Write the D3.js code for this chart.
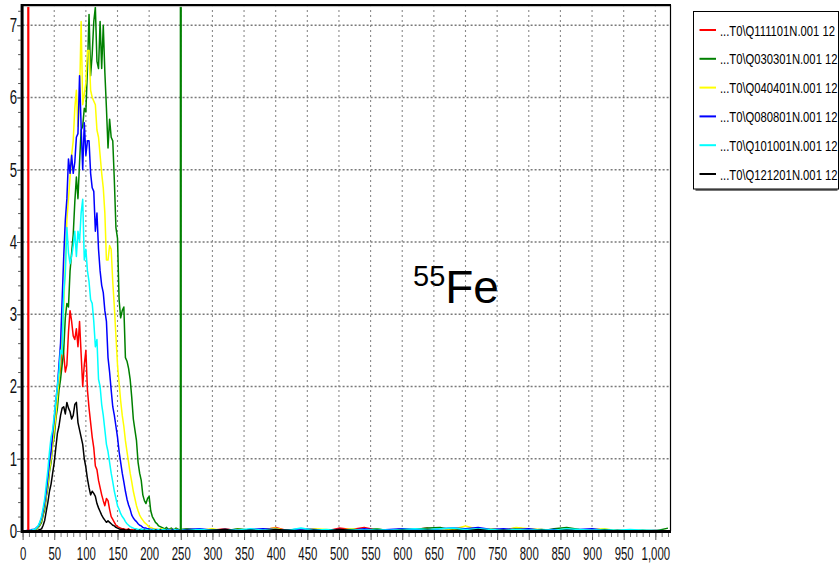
<!DOCTYPE html>
<html>
<head>
<meta charset="utf-8">
<script src="https://cdn.jsdelivr.net/npm/d3@7"></script>
<style>
  html, body { margin: 0; padding: 0; background: #fff; }
  svg { display: block; }
  text { font-family: "Liberation Sans", Arial, sans-serif; }
</style>
</head>
<body>
<svg id="chart" width="840" height="573"></svg>
<script>
// channel bins of the peak region (2.5 wide), then a coarse tail
const binX = [0, 2.5, 5, 7.5, 10, 12.5, 15, 17.5, 20, 22.5,
  25, 27.5, 30, 32.5, 35, 37.5, 40, 42.5, 45, 47.5,
  50, 52.5, 55, 57.5, 60, 62.5, 65, 67.5, 70, 72.5,
  75, 77.5, 80, 82.5, 85, 87.5, 90, 92.5, 95, 97.5,
  100, 102.5, 105, 107.5, 110, 112.5, 115, 117.5, 120, 122.5,
  125, 127.5, 130, 132.5, 135, 137.5, 140, 142.5, 145, 147.5,
  150, 152.5, 155, 157.5, 160, 162.5, 165, 167.5, 170, 172.5,
  175, 177.5, 180, 182.5, 185, 187.5, 190, 192.5, 195, 197.5,
  200, 202.5, 205, 207.5, 210, 212.5, 215, 217.5, 220, 222.5,
  225, 227.5, 230, 232.5, 235, 237.5, 240, 242.5, 245, 247.5,
  250];
const tailX = [260, 280, 300, 320, 340, 360, 380, 400, 420, 440,
  460, 480, 500, 520, 540, 560, 580, 600, 620, 640,
  660, 680, 700, 720, 740, 760, 780, 800, 820, 840,
  860, 880, 900, 920, 940, 960, 980, 1000, 1020];

const seriesNames = ["...T0\\Q111101N.001 12", "...T0\\Q030301N.001 12", "...T0\\Q040401N.001 12",
  "...T0\\Q080801N.001 12", "...T0\\Q101001N.001 12", "...T0\\Q121201N.001 12"];
const seriesColors = ["#ff0000", "#008000", "#ffff00", "#0000ff", "#00ffff", "#000000"];

const redVals = [0, 0, 0, 0, 0, 0, 0.01, 0.01, 0.02, 0.04,
  0.06, 0.1, 0.15, 0.25, 0.35, 0.5, 0.7, 0.9, 1.05, 1.25,
  1.4, 1.6, 1.8, 2.1, 2.25, 2.6, 2.45, 2.2, 2.3, 2.75,
  3.05, 2.9, 2.7, 2.65, 2.8, 2.55, 2.9, 2.45, 2.0, 2.3,
  2.5, 1.95, 1.7, 1.5, 1.3, 1.15, 0.9, 0.85, 0.7, 0.6,
  0.5, 0.42, 0.35, 0.45, 0.42, 0.3, 0.2, 0.16, 0.12, 0.08,
  0.06, 0.05, 0.04, 0.03, 0.03, 0.02, 0.02, 0.03, 0.01, 0.02,
  0.01, 0.02, 0.01, 0, 0, 0.01, 0.01, 0, 0, 0.01,
  0.01, 0, 0, 0.01, 0.02, 0, 0, 0.01, 0.01, 0,
  0, 0.01, 0.01, 0, 0, 0.01, 0.02, 0, 0, 0.01,
  0.01];
const greenVals = [0, 0, 0, 0, 0, 0, 0, 0.01, 0.02, 0.03,
  0.05, 0.08, 0.12, 0.22, 0.3, 0.48, 0.6, 0.82, 0.95, 1.2,
  1.3, 1.55, 1.7, 1.95, 2.1, 2.3, 2.5, 2.95, 3.15, 3.1,
  3.6, 3.85, 4.1, 4.55, 4.9, 4.6, 5.1, 5.55, 5.6, 5.85,
  5.8, 6.4, 7.15, 6.3, 6.6, 7.05, 7.25, 6.5, 6.4, 7.05,
  6.4, 7.0, 6.35, 5.85, 5.3, 5.7, 5.45, 5.4, 4.85, 4.2,
  4.05, 3.2, 2.95, 3.05, 3.1, 2.4, 2.35, 2.25, 2.1, 1.85,
  1.55, 1.4, 1.25, 0.95, 0.8, 0.7, 0.5, 0.42, 0.38, 0.45,
  0.48, 0.28, 0.2, 0.16, 0.12, 0.1, 0.07, 0.06, 0.05, 0.04,
  0.03, 0.05, 0.02, 0.03, 0.04, 0.02, 0.02, 0.04, 0.03, 0.01,
  0.02];
const yellowVals = [0, 0, 0, 0, 0, 0, 0.01, 0.01, 0.02, 0.04,
  0.06, 0.1, 0.15, 0.25, 0.35, 0.5, 0.65, 0.85, 1.0, 1.2,
  1.4, 1.6, 1.85, 2.1, 2.4, 2.7, 3.1, 3.7, 4.3, 4.6,
  4.9, 5.2, 5.4, 5.85, 6.1, 5.6, 6.0, 7.05, 5.9, 6.05,
  6.2, 6.65, 6.65, 6.1, 6.0, 5.95, 5.9, 5.55, 5.45, 5.2,
  4.95, 4.75, 4.4, 3.75, 3.75, 3.95, 3.9, 3.45, 3.1, 2.7,
  2.3, 2.05, 1.8, 1.6, 1.45, 1.25, 1.1, 0.95, 0.8, 0.68,
  0.55, 0.45, 0.35, 0.28, 0.22, 0.18, 0.15, 0.12, 0.1, 0.08,
  0.05, 0.05, 0.04, 0.03, 0.03, 0.02, 0.02, 0.03, 0.03, 0.02,
  0.02, 0.01, 0.01, 0.02, 0.02, 0.01, 0.01, 0.02, 0.02, 0.01,
  0.01];
const blueVals = [0, 0, 0, 0.01, 0.01, 0.01, 0.02, 0.02, 0.03, 0.05,
  0.07, 0.12, 0.18, 0.28, 0.4, 0.55, 0.75, 0.95, 1.1, 1.35,
  1.55, 1.8, 2.0, 2.3, 2.6, 3.2, 3.8, 4.3, 4.6, 5.15,
  4.95, 5.2, 4.95, 5.1, 5.45, 5.5, 6.3, 5.6, 5.0, 5.65,
  5.2, 5.4, 5.4, 4.95, 4.75, 4.7, 4.15, 4.4, 3.9, 3.6,
  3.4, 3.3, 3.05, 2.9, 2.4, 2.2, 1.95, 1.72, 1.6, 1.45,
  1.3, 1.1, 0.95, 0.8, 0.68, 0.55, 0.44, 0.36, 0.3, 0.22,
  0.18, 0.15, 0.13, 0.1, 0.08, 0.07, 0.05, 0.04, 0.04, 0.03,
  0.03, 0.02, 0.02, 0.02, 0.01, 0.02, 0.01, 0.02, 0.01, 0.01,
  0.01, 0.02, 0.02, 0.01, 0.01, 0.02, 0.01, 0.01, 0.02, 0.01,
  0.01];
const cyanVals = [0, 0, 0, 0, 0, 0.01, 0.01, 0.02, 0.03, 0.05,
  0.08, 0.13, 0.2, 0.32, 0.45, 0.65, 0.85, 1.1, 1.3, 1.4,
  1.6, 1.8, 2.0, 2.2, 2.5, 2.45, 3.3, 3.55, 4.2, 3.85,
  3.7, 3.8, 3.95, 4.15, 3.8, 4.15, 4.0, 4.4, 4.59, 3.75,
  3.9, 3.6, 3.45, 3.2, 3.15, 2.9, 2.55, 2.65, 2.1, 2.0,
  1.75, 1.6, 1.4, 1.2, 1.1, 0.95, 0.8, 0.68, 0.55, 0.45,
  0.35, 0.3, 0.24, 0.2, 0.17, 0.13, 0.1, 0.08, 0.06, 0.05,
  0.04, 0.03, 0.03, 0.02, 0.02, 0.03, 0.02, 0.01, 0.02, 0.01,
  0.02, 0.01, 0.01, 0.02, 0.01, 0.01, 0.02, 0.01, 0.01, 0.02,
  0.01, 0.02, 0.01, 0.01, 0, 0.01, 0.02, 0.01, 0.01, 0.02,
  0.01];
const blackVals = [0, 0, 0, 0, 0, 0, 0, 0, 0, 0,
  0.01, 0.02, 0.03, 0.08, 0.15, 0.28, 0.4, 0.55, 0.65, 0.8,
  0.95, 1.15, 1.35, 1.45, 1.6, 1.7, 1.72, 1.62, 1.78, 1.7,
  1.65, 1.55, 1.6, 1.75, 1.78, 1.5, 1.4, 1.3, 1.2, 1.0,
  0.88, 0.72, 0.6, 0.5, 0.55, 0.52, 0.48, 0.38, 0.32, 0.27,
  0.22, 0.18, 0.15, 0.12, 0.14, 0.12, 0.1, 0.08, 0.07, 0.05,
  0.04, 0.03, 0.02, 0.02, 0.02, 0.01, 0.01, 0.02, 0.01, 0,
  0, 0.01, 0, 0, 0.01, 0, 0, 0.01, 0, 0,
  0.01, 0, 0, 0, 0.01, 0, 0, 0.01, 0, 0,
  0, 0.01, 0, 0, 0, 0.01, 0, 0, 0, 0.01,
  0];

// tails (260 .. 1020)
const redTail = [0.02, 0, 0.01, 0.03, 0, 0.02, 0.01, 0.05, 0, 0.02,
  0.01, 0, 0.04, 0.02, 0.05, 0.01, 0, 0.03, 0.02, 0.04,
  0, 0.02, 0.01, 0, 0.02, 0.01, 0, 0.01, 0.02, 0,
  0.01, 0, 0.02, 0, 0.01, 0, 0, 0.01, 0];
const greenTail = [0.03, 0.01, 0.02, 0, 0.03, 0.01, 0, 0.02, 0.01, 0,
  0.02, 0.01, 0, 0.02, 0.01, 0.03, 0, 0.01, 0.02, 0.04,
  0.05, 0.01, 0.02, 0, 0.03, 0.01, 0.04, 0.02, 0, 0.03,
  0.05, 0.02, 0.01, 0, 0.01, 0, 0.01, 0, 0.04];
const yellowTail = [0.02, 0.01, 0.03, 0, 0.02, 0.01, 0.02, 0.04, 0, 0.01,
  0.03, 0.02, 0.01, 0.03, 0, 0.02, 0.01, 0, 0.02, 0.01,
  0.03, 0.02, 0.07, 0.02, 0.03, 0.01, 0.05, 0.03, 0.02, 0.01,
  0.02, 0.01, 0.02, 0.03, 0, 0.01, 0, 0, 0];
const blueTail = [0.02, 0.03, 0.01, 0.02, 0.01, 0.02, 0.03, 0.02, 0.01, 0.03,
  0.02, 0.01, 0.02, 0.01, 0.03, 0.01, 0.02, 0.03, 0.02, 0.01,
  0.03, 0.04, 0.03, 0.05, 0.02, 0.03, 0.02, 0.03, 0.01, 0.02,
  0.01, 0.02, 0.03, 0.01, 0, 0.01, 0, 0, 0];
const cyanTail = [0.01, 0.02, 0.01, 0.02, 0.01, 0.03, 0.01, 0.02, 0.01, 0.04,
  0.01, 0.02, 0.01, 0.02, 0.01, 0.02, 0.01, 0.02, 0.03, 0.02,
  0.03, 0.04, 0.02, 0.03, 0.02, 0.01, 0.02, 0.01, 0.02, 0.01,
  0.03, 0.02, 0.01, 0.02, 0.01, 0.02, 0.01, 0.01, 0];
const blackTail = [0.01, 0, 0.01, 0.02, 0, 0.01, 0, 0.02, 0.01, 0,
  0.01, 0, 0.02, 0.01, 0, 0.01, 0, 0.01, 0, 0.01,
  0, 0.01, 0, 0.02, 0, 0.01, 0, 0, 0.01, 0,
  0.01, 0, 0, 0.01, 0, 0, 0, 0, 0];

const mainVals = [redVals, greenVals, yellowVals, blueVals, cyanVals, blackVals];
const tailVals = [redTail, greenTail, yellowTail, blueTail, cyanTail, blackTail];

const xTicks = [0, 50, 100, 150, 200, 250, 300, 350, 400, 450, 500, 550, 600, 650, 700, 750, 800, 850, 900, 950, 1000];
const yTicks = [0, 1, 2, 3, 4, 5, 6, 7];
const markerLines = [{x: 9, color: "#ff0000"}, {x: 250, color: "#008000"}];

const svg = d3.select("#chart");
const plotL = 22.6, plotR = 670.5, plotT = 5, plotB = 531;

const x = d3.scaleLinear().domain([0, 1024]).range([plotL, plotR]);
const y = d3.scaleLinear().domain([0, 7.28]).range([plotB, plotT]);

// grid
const grid = svg.append("g");
grid.selectAll("line.h")
  .data(yTicks.filter(d => d > 0))
  .join("line")
    .attr("x1", plotL).attr("x2", plotR)
    .attr("y1", d => y(d)).attr("y2", d => y(d))
    .attr("stroke", "#7a7a7a").attr("stroke-width", 1.6)
    .attr("stroke-dasharray", "2,2");
grid.selectAll("line.v")
  .data(xTicks.filter(d => d > 0))
  .join("line")
    .attr("x1", d => x(d)).attr("x2", d => x(d))
    .attr("y1", plotT).attr("y2", plotB)
    .attr("stroke", "#8a8a8a").attr("stroke-width", 1.1)
    .attr("stroke-dasharray", "2,3");

// series
const line = d3.line().x(d => x(d[0])).y(d => y(d[1]));
const series = mainVals.map((vals, i) => {
  const pts = binX.map((b, j) => [b, vals[j]]);
  tailX.forEach((b, j) => pts.push([b, tailVals[i][j]]));
  return {name: seriesNames[i], color: seriesColors[i], pts};
});

svg.append("g")
  .selectAll("path")
  .data(series)
  .join("path")
    .attr("d", d => line(d.pts))
    .attr("fill", "none")
    .attr("stroke", d => d.color)
    .attr("stroke-width", 1.5)
    .attr("stroke-linejoin", "round");

// marker lines
svg.append("g")
  .selectAll("line")
  .data(markerLines)
  .join("line")
    .attr("x1", d => x(d.x)).attr("x2", d => x(d.x))
    .attr("y1", plotT).attr("y2", plotB)
    .attr("stroke", d => d.color)
    .attr("stroke-width", 2.2);

// frame
svg.append("line").attr("x1", plotL).attr("x2", plotR + 0.5).attr("y1", plotT).attr("y2", plotT)
  .attr("stroke", "#000").attr("stroke-width", 2);
svg.append("line").attr("x1", plotL).attr("x2", plotR).attr("y1", plotT + 1.6).attr("y2", plotT + 1.6)
  .attr("stroke", "#bbb").attr("stroke-width", 1);
svg.append("line").attr("x1", plotR).attr("x2", plotR).attr("y1", plotT).attr("y2", plotB)
  .attr("stroke", "#000").attr("stroke-width", 1.2);
svg.append("line").attr("x1", plotL - 1.5).attr("x2", plotR + 0.5).attr("y1", plotB + 0.5).attr("y2", plotB + 0.5)
  .attr("stroke", "#000").attr("stroke-width", 3);
svg.append("line").attr("x1", plotL - 0.5).attr("x2", plotL - 0.5).attr("y1", plotT - 1).attr("y2", plotB + 2)
  .attr("stroke", "#000").attr("stroke-width", 3);

// x axis
const xAxis = d3.axisBottom(x)
  .tickValues(xTicks)
  .tickFormat(d3.format(","))
  .tickSize(7)
  .tickPadding(7);
const gx = svg.append("g").attr("transform", `translate(0,${plotB + 2})`).call(xAxis);
gx.select(".domain").remove();
gx.selectAll(".tick line").attr("stroke", "#555");
gx.selectAll(".tick text")
  .attr("font-size", 19)
  .attr("fill", "#111")
  .attr("transform", "scale(0.6,1)");
const xMinor = d3.axisBottom(x).ticks(102).tickSize(4).tickFormat("");
const gxm = svg.append("g").attr("transform", `translate(0,${plotB + 2})`).call(xMinor);
gxm.select(".domain").remove();
gxm.selectAll(".tick line").attr("stroke", "#777");

// y axis
const yAxis = d3.axisLeft(y).tickValues(yTicks).tickSize(4).tickPadding(2).tickFormat(d3.format("d"));
const gy = svg.append("g").attr("transform", `translate(${plotL - 1.5},0)`).call(yAxis);
gy.select(".domain").remove();
gy.selectAll(".tick line").attr("stroke", "#333");
gy.selectAll(".tick text")
  .attr("font-size", 20)
  .attr("fill", "#111")
  .attr("transform", "scale(0.66,1)");
const yMinor = d3.axisLeft(y).ticks(29).tickSize(3).tickFormat("");
const gym = svg.append("g").attr("transform", `translate(${plotL - 1.5},0)`).call(yMinor);
gym.select(".domain").remove();
gym.selectAll(".tick line").attr("stroke", "#555");

// annotation
const ann = svg.append("text").attr("x", 413).attr("y", 303).attr("fill", "#000");
ann.append("tspan").attr("font-size", 29).attr("dy", -17).text("55");
ann.append("tspan").attr("font-size", 46).attr("dy", 17).text("Fe");

// legend (box runs to the right edge, like the reference)
const lg = svg.append("g").attr("transform", "translate(693.5,11.5)");
lg.append("rect").attr("x", 2).attr("y", 2).attr("width", 142).attr("height", 177.5).attr("fill", "#777");
lg.append("rect").attr("width", 145).attr("height", 177.5).attr("fill", "#fff").attr("stroke", "#000").attr("stroke-width", 1);
const items = lg.selectAll("g.item")
  .data(series)
  .join("g")
    .attr("transform", (d, i) => `translate(0,${18.5 + i * 28.8})`);
items.append("line")
  .attr("x1", 6).attr("x2", 22.5)
  .attr("stroke", d => d.color).attr("stroke-width", 2);
items.append("text")
  .attr("transform", "translate(26.5,5.5) scale(0.75,1)")
  .attr("font-size", 15)
  .attr("fill", "#000")
  .text(d => d.name);
</script>
</body>
</html>
